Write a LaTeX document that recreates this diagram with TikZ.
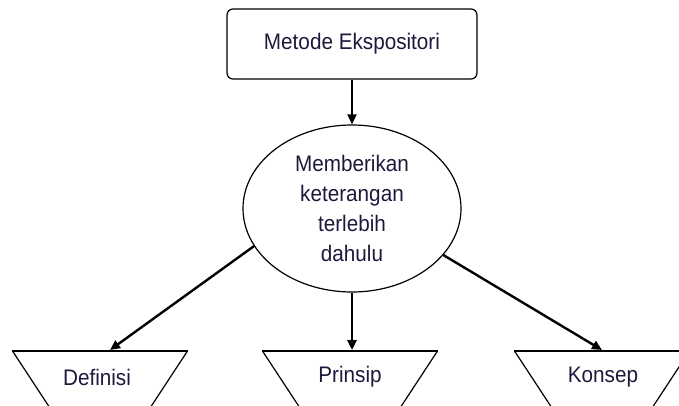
\documentclass[tikz,border=0pt]{standalone}
\usepackage{fontspec}
\setmainfont{Liberation Sans}
\newfontfamily\narrowsans[FakeStretch=0.92]{Liberation Sans}
\usetikzlibrary{shapes.geometric,arrows.meta}
\definecolor{ink}{RGB}{30,25,60}
\begin{document}
\begin{tikzpicture}[x=1pt,y=-1pt,
  txt/.style={font=\narrowsans\fontsize{22.5}{30}\selectfont, text=ink, inner sep=0pt},
  arr/.style={line width=2.4pt, -{Triangle[length=10pt,width=9pt]}},
  thinline/.style={line width=1.2pt},
  topline/.style={line width=2pt}]
\useasboundingbox (0,0) rectangle (679,406);
\node[draw, thinline, rounded corners=6pt, minimum width=250pt, minimum height=70pt, txt] (b) at (352,44) {Metode Ekspositori};
\node[draw, thinline, ellipse, minimum width=218pt, minimum height=167pt, align=center, txt] (e) at (352,208.5) {Memberikan\\keterangan\\terlebih\\dahulu};
\begin{scope}
\clip (0,0) rectangle (679,406);
\foreach \cx in {100,350,602}{
  \draw[thinline] (\cx-87.5,351) -- (\cx-87.5+46,421);
  \draw[thinline] (\cx+87.5,351) -- (\cx+87.5-46,421);
  \draw[topline] (\cx-88,351) -- (\cx+88,351);
}
\end{scope}
\coordinate (d1) at (110,350);
\coordinate (d2) at (352,350);
\coordinate (d3) at (602,350);
\node[txt] (l1) at (97,377) {Definisi};
\node[txt] (l2) at (350,377) {Prinsip};
\node[txt] (l3) at (603,377) {Konsep};
\draw[arr] (b.south) -- (e.north);
\draw[arr] (e.201) -- (d1);
\draw[arr] (e.south) -- (d2);
\draw[arr] (e.333) -- (d3);
\end{tikzpicture}
\end{document}
